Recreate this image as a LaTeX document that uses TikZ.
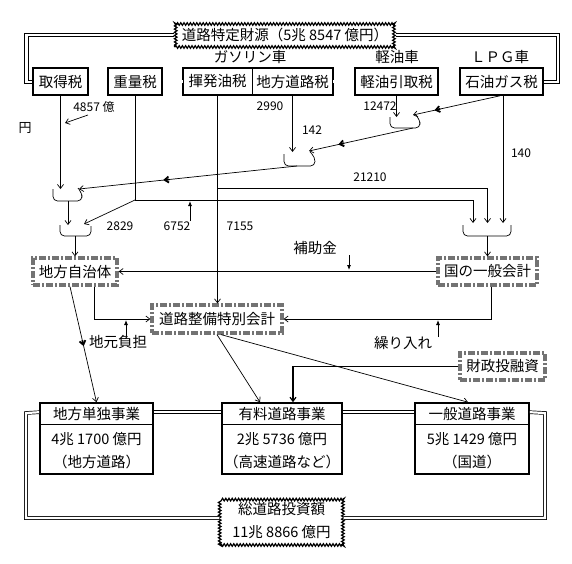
\documentclass[tikz,border=0pt]{standalone}
\usepackage{fontspec}
\setmainfont{Noto Sans CJK JP}
\usetikzlibrary{arrows.meta,decorations.pathmorphing,decorations.markings}
\begin{document}
\begin{tikzpicture}[x=1pt,y=-1pt,
  every node/.style={font=\fontsize{14.5}{17}\selectfont, inner sep=0pt},
  taxbox/.style={draw, line width=1.6pt, minimum height=27pt},
  bigbox/.style={draw, line width=1.6pt, minimum height=71pt},
  hatch/.style={draw=black!55, line width=3.2pt, dash pattern=on 7pt off 2pt on 2pt off 2pt, minimum height=27pt, fill=white},
  wavy/.style={draw, line width=1.2pt, decorate, decoration={snake, amplitude=1.3pt, segment length=3.2pt}},
  plain/.style={line width=0.7pt},
  conn/.style={line width=0.7pt, -{Straight Barb[length=4pt,width=6pt]}},
  dbl/.style={double, double distance=2.2pt, line width=0.7pt},
  thinpair/.style={line width=0.8pt},
  ind/.style={line width=0.8pt, -{Latex[length=5pt,width=4pt]}},
  num/.style={font=\fontsize{12}{14}\selectfont},
  tick/.style={postaction={decorate, decoration={markings, mark=at position #1 with {\draw[line width=1.8pt] (-3pt,0) -- (3pt,0);}}}},
  cup/.style={line width=0.7pt, rounded corners=4.5pt}
]
\useasboundingbox (0,0) rectangle (572,563);

% ---- top node ----
\node[wavy, minimum width=220pt, minimum height=25pt] (T) at (285,34.5) {道路特定財源（5兆 8547 億円）};

% top double connectors, drawn as two parallel lines
\coordinate (tlo) at (24.5,33);
\coordinate (tli) at (28,36.5);
\coordinate (tro) at (559.5,33);
\coordinate (tri) at (556,36.5);
\draw[thinpair] ([yshift=1.5pt]T.west) -- (tlo) -- (tlo |- 0,83) -- (33,83);
\draw[thinpair] ([yshift=-2pt]T.west) -- (tli) -- (tli |- 0,80) -- (33,80);
\draw[thinpair] ([yshift=1.5pt]T.east) -- (tro) -- (tro |- 0,83) -- (543,83);
\draw[thinpair] ([yshift=-2pt]T.east) -- (tri) -- (tri |- 0,80) -- (543,80);

\node (lg) at (250,57) {ガソリン車};
\node (lk) at (397,57) {軽油車};
\node (ll) at (500,57) {ＬＰＧ車};

\node[taxbox, minimum width=55pt, fill=white] (A) at (60.5,81.5) {取得税};
\node[taxbox, minimum width=54pt] (B) at (135,81.5) {重量税};
\node[minimum width=69pt, minimum height=27pt] (C) at (217.5,81.5) {揮発油税};
\node[minimum width=81pt, minimum height=27pt] (D) at (292.5,81.5) {地方道路税};
\draw[line width=1.6pt] (C.north west) rectangle (D.south east);
\draw[plain] (C.north east) -- (C.south east);
\node[taxbox, minimum width=83pt] (E) at (396.5,81.5) {軽油引取税};
\node[taxbox, minimum width=83pt, fill=white] (F) at (501.5,81.5) {石油ガス税};

\draw[dbl] (A.east) -- (B.west);
\draw[dbl] (B.east) -- (C.west);
\draw[dbl] (D.east) -- (E.west);
\draw[dbl] (E.east) -- (F.west);

% ---- cups ----
\draw[cup] (53,189) -- (53,201) -- (82,201) -- (82,193) -- (78,188);
\draw[cup] (60,225) -- (60,236) -- (91,236) -- (91,226);
\draw[cup] (284,154) -- (284,166) -- (315,166) -- (315,157) -- (310,152);
\draw[cup] (390,117) -- (390,128) -- (420,128) -- (420,120) -- (416,115);
\draw[cup] (463,225) -- (463,236) -- (511,236) -- (511,225);

\coordinate (c1a) at (60.5,189);
\coordinate (c1b) at (79,189);
\coordinate (c1o) at (68,201);
\coordinate (c2a) at (68,225);
\coordinate (c2b) at (84,224);
\coordinate (c2o) at (75,236);
\coordinate (c3a) at (292.5,152);
\coordinate (c3b) at (309,151);
\coordinate (c3o) at (297,166);
\coordinate (c4a) at (396.5,117);
\coordinate (c4b) at (413,115);
\coordinate (c4o) at (413,128);
\coordinate (c5a) at (473,223);
\coordinate (c5b) at (487.5,223);
\coordinate (c5c) at (503,223);
\coordinate (c5o) at (487.5,236);
\coordinate (jB) at (135,200);
\coordinate (jC) at (217.5,188);

% ---- middle nodes ----
\node[hatch, minimum width=84pt] (L) at (75,271.5) {地方自治体};
\node[hatch, minimum width=99pt] (G) at (487.5,271.5) {国の一般会計};
\node[hatch, minimum width=130pt, minimum height=28pt] (R) at (217,319) {道路整備特別会計};
\node[hatch, minimum width=85pt] (Z) at (502.5,366.5) {財政投融資};

% ---- connectors upper ----
\draw[conn] (A.south) -- (c1a);
\draw[conn, tick=0.6] (c3o) -- (c1b);
\draw[conn] (c1o) -- (c2a);
\draw[plain] (B.south) -- (jB);
\draw[conn] (jB) -- (c2b);
\draw[conn] (jB) -| (c5a);
\draw[conn] (c2o) -- (L.north);
\draw[conn] (C.south) -- (C.south |- R.north);
\draw[conn] (jC) -| (c5b);
\draw[conn] (D.south) -- (c3a);
\draw[conn] (E.south) -- (c4a);
\draw[conn, tick=0.69] (c4o) -- (c3b);
\draw[conn, tick=0.72] ([xshift=-1.5pt]F.south) -- (c4b);
\draw[conn] ([xshift=1.5pt]F.south) -- (c5c);
\draw[conn] (c5o) -- (G.north);

% labels upper
\node[num] (n4857) at (94,107) {4857 億};
\node[font=\fontsize{13}{15}\selectfont] (yen) at (25,128) {円};
\coordinate (a1) at (88,115);
\coordinate (a2) at (65,123);
\draw[conn] (a1) -- (a2);
\node[num] (n2829) at (120,226) {2829};
\node[num] (n6752) at (177,226) {6752};
\node[num] (n7155) at (240,226) {7155};
\node[num] (n21210) at (370,177) {21210};
\node[num] (n2990) at (270,106) {2990};
\node[num] (n142) at (312,130) {142};
\node[num] (n12472) at (380,106) {12472};
\node[num] (n140) at (521,153) {140};
\coordinate (i1s) at (190,221);
\coordinate (i1e) at (190,201);
\draw[ind] (i1s) -- (i1e);

% ---- lower connectors ----
\draw[conn] (G.west) -- (L.east);
\node (hojo) at (315,248) {補助金};
\coordinate (i2s) at (349,255);
\coordinate (i2e) at (349,270);
\draw[ind] (i2s) -- (i2e);

% bottom boxes
\node[bigbox, minimum width=113pt] (P1) at (96.5,438.5) {};
\node[bigbox, minimum width=120pt] (P2) at (282,438.5) {};
\node[bigbox, minimum width=114pt] (P3) at (472,438.5) {};
\draw[plain] ([yshift=-22pt]P1.north west) -- ([yshift=-22pt]P1.north east);
\draw[plain] ([yshift=-22pt]P2.north west) -- ([yshift=-22pt]P2.north east);
\draw[plain] ([yshift=-22pt]P3.north west) -- ([yshift=-22pt]P3.north east);
\node (P1h) at (96.5,414) {地方単独事業};
\node (P1a) at (96.5,439) {4兆 1700 億円};
\node (P1b) at (96.5,462) {（地方道路）};
\node (P2h) at (282,414) {有料道路事業};
\node (P2a) at (282,439) {2兆 5736 億円};
\node (P2b) at (282,462) {（高速道路など）};
\node (P3h) at (472,414) {一般道路事業};
\node (P3a) at (472,439) {5兆 1429 億円};
\node (P3b) at (472,462) {（国道）};

\draw[conn, tick=0.49] ([xshift=-5pt]L.south) -- (P1.north);
\draw[conn] ([xshift=19pt]L.south) |- (R.west);
\node (jimoto) at (118,342) {地元負担};
\coordinate (i3s) at (126,336);
\coordinate (i3e) at (126,320);
\draw[ind] (i3s) -- (i3e);
\draw[conn] ([xshift=3.5pt]G.south) |- (R.east);
\node (kuri) at (403,343) {繰り入れ};
\coordinate (i4s) at (438,337);
\coordinate (i4e) at (438,320);
\draw[ind] (i4s) -- (i4e);
\draw[conn] (R.south) -- ([xshift=-22pt]P2.north);
\draw[conn] ([xshift=4pt]R.south) -- ([xshift=-4pt]P3.north);
\draw[conn, line width=1.2pt] (Z.west) -| ([xshift=11pt]P2.north);

% total
\node[wavy, minimum width=123pt, minimum height=48pt, align=center, font=\fontsize{14.5}{23}\selectfont] (S) at (281.5,521) {総道路投資額\\11兆 8866 億円};
\coordinate (bl) at (26,413);
\coordinate (br) at (545,413);
\draw[dbl] ([yshift=-10pt]P1.north west) -- (bl) |- ([yshift=3pt]S.west);
\draw[dbl] ([yshift=-10pt]P3.north east) -- (br) |- ([yshift=3pt]S.east);
\draw[dbl] ([yshift=-10pt]P1.north east) -- ([yshift=-10pt]P2.north west);
\draw[dbl] ([yshift=-10pt]P2.north east) -- ([yshift=-10pt]P3.north west);
\end{tikzpicture}
\end{document}
